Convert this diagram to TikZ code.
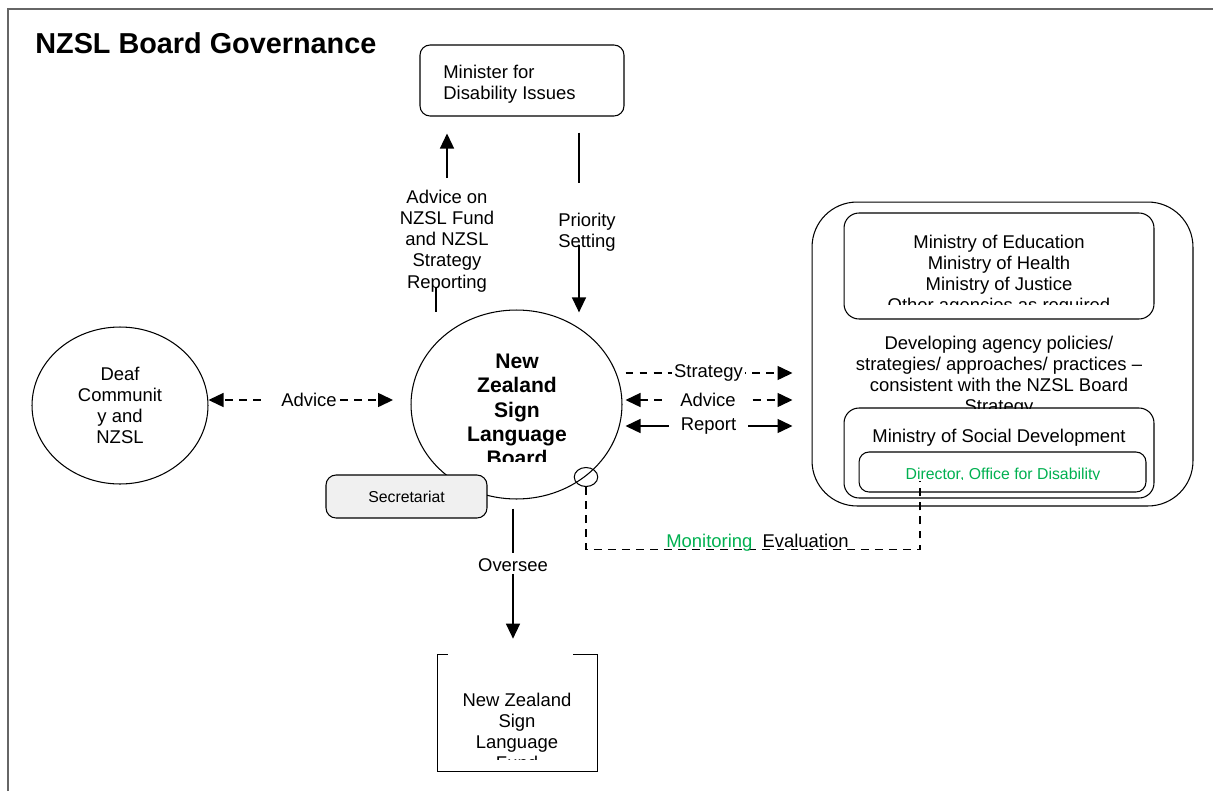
\documentclass[tikz,border=0pt]{standalone}
\usepackage{fontspec}
\setmainfont{Liberation Sans}
\usetikzlibrary{shapes.geometric, arrows.meta}
\definecolor{wordgreen}{RGB}{0,176,80}

\begin{document}
\begin{tikzpicture}[x=0.02cm, y=-0.02cm,
    >={Triangle[length=0.3cm, width=0.28cm]},
    txt/.style={font=\fontsize{10.5pt}{12pt}\selectfont, align=center, inner sep=0},
    small/.style={font=\fontsize{9pt}{10.5pt}\selectfont},
    box/.style={draw, line width=0.6pt, inner sep=0},
    conn/.style={line width=0.8pt},
    dashline/.style={line width=0.8pt, dash pattern=on 4.5pt off 3.5pt},
    lbl/.style={txt, fill=white, inner xsep=0.24cm, inner ysep=1pt}]
    \useasboundingbox (0,0) rectangle (1213,791);
    \draw[black!60, line width=0.6pt] (8,791) -- (8,9) -- (1213,9);
    \node[anchor=base west, inner sep=0, font=\fontsize{16.4pt}{19pt}\selectfont\bfseries] (title) at (35,53) {NZSL Board Governance};

    % nodes
    \node[box, rounded corners=0.2cm, minimum width=4.08cm, minimum height=1.42cm] (minister) at (522,80.5) {};
    \node[txt, anchor=north west, align=left] (ministerText) at (443,65) {Minister for\\Disability Issues};
    \node[box, txt, ellipse, minimum width=3.52cm, minimum height=3.14cm] (deaf) at (120,405.5) {Deaf\\Communit\\y and\\NZSL};
    \node[box, ellipse, minimum width=4.22cm, minimum height=3.78cm] (board) at (516.5,404.5) {};
    \begin{scope}
        \clip (400,340) rectangle (640,461);
        \node[txt, anchor=north, font=\fontsize{12pt}{13.9pt}\selectfont\bfseries] (boardText) at (517,353.4) {New\\Zealand\\Sign\\Language\\Board};
    \end{scope}
    \node[box, small, rounded corners=0.2cm, fill=black!6, minimum width=3.22cm, minimum height=0.86cm] (secretariat) at (406.5,496.5) {Secretariat};
    \node[box, ellipse, minimum width=0.47cm, minimum height=0.38cm] (mon) at (586,477) {};

    \node[box, rounded corners=0.9cm, minimum width=7.62cm, minimum height=6.08cm] (agencies) at (1002.5,354) {};
    \node[box, rounded corners=0.3cm, minimum width=6.2cm, minimum height=2.12cm] (ministries) at (999,266) {};
    \begin{scope}
        \clip (844,213) rectangle (1154,304);
        \node[txt, anchor=north] (ministriesText) at (999,234.4) {Ministry of Education\\Ministry of Health\\Ministry of Justice\\Other agencies as required};
    \end{scope}
    \begin{scope}
        \clip (812,320) rectangle (1193,408);
        \node[txt, anchor=north] (policyText) at (999,335.4) {Developing agency policies/\\strategies/ approaches/ practices --\\consistent with the NZSL Board\\Strategy};
    \end{scope}
    \node[box, rounded corners=0.3cm, minimum width=6.2cm, minimum height=1.8cm] (msd) at (999,453) {};
    \node[txt, anchor=north] (msdText) at (999,428.4) {Ministry of Social Development};
    \node[box, rounded corners=0.2cm, minimum width=5.74cm, minimum height=0.8cm] (director) at (1002.5,472) {};
    \begin{scope}
        \clip (859,452) rectangle (1146,479);
        \node[txt, small, anchor=north, text=wordgreen] (directorText) at (1003,467.3) {Director, Office for Disability};
    \end{scope}

    \node[minimum width=3.18cm, minimum height=2.32cm, inner sep=0] (fund) at (517.5,713) {};
    \draw[line width=0.6pt] (fund.north west) ++(10,0) -- (fund.north west) -- (fund.south west) -- (fund.south east) -- (fund.north east) -- ++(-24,0);
    \begin{scope}
        \clip (438,655) rectangle (597,759);
        \node[txt, anchor=north] (fundText) at (517,692.4) {New Zealand\\Sign\\Language\\Fund};
    \end{scope}

    % minister links
    \node[txt, anchor=north] (fundAdvice) at (447,190) {Advice on\\NZSL Fund\\and NZSL\\Strategy\\Reporting};
    \draw[conn, ->, shorten <=0.24cm, shorten >=0.34cm] (fundAdvice.north) -- (fundAdvice.north |- minister.south);
    \draw[conn] (fundAdvice.south) ++(-11,-5) -- ++(0,25);
    \node[txt, anchor=north] (priority) at (587,213) {Priority\\Setting};
    \draw[conn] (minister.south -| priority.north) ++(-8,16) -- ++(0,50);
    \draw[conn, ->] (priority.south) ++(-8,-6.6) -- ++(0,67);

    % deaf community
    \node[txt] (deafAdvice) at (309,400) {Advice};
    \draw[dashline, ->] (deafAdvice.west) ++(-20,0) -- (deafAdvice.west -| deaf.east);
    \draw[dashline, ->] (deafAdvice.east) ++(3,0) -- ++(53,0);

    % agencies
    \draw[dashline, ->, shorten <=0.06cm, shorten >=0.38cm] (board.east |- 0,373) -- node[lbl, inner xsep=0.04cm, pos=0.455] (strategyLbl) {Strategy} (agencies.west |- 0,373);
    \draw[dashline, <->, shorten <=0.06cm, shorten >=0.38cm] (board.east |- 0,400) -- node[lbl, pos=0.452] (adviceLbl) {Advice} (agencies.west |- 0,400);
    \draw[conn, <->, shorten <=0.06cm, shorten >=0.38cm] (board.east |- 0,426) -- node[lbl, pos=0.455] (reportLbl) {Report} (agencies.west |- 0,426);

    % monitoring
    \draw[dashline] (mon.south) -- ++(0,62.5) -| ([yshift=0.24cm]director.south -| 920,0);
    \node[txt, anchor=base] (evalLbl) at (757.5,547.5) {\textcolor{wordgreen}{Monitoring}\hspace{5.7pt}Evaluation};

    % fund
    \node[txt] (oversee) at (513,565) {Oversee};
    \draw[conn] (board.south -| oversee.north) ++(0,9) -- ++(0,44);
    \draw[conn, ->, shorten >=0.32cm] ([yshift=-0.04cm]oversee.south) -- (oversee.south |- fund.north);
\end{tikzpicture}
\end{document}
